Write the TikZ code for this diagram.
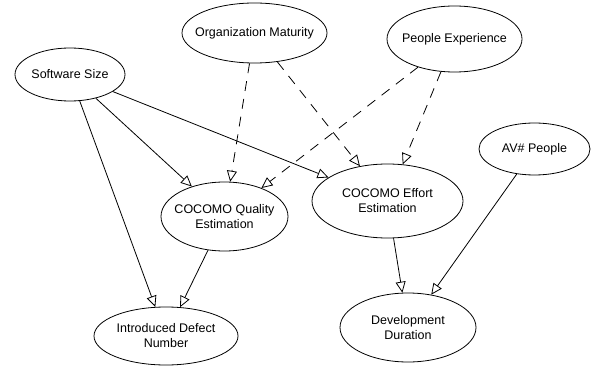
\documentclass[tikz,border=0pt]{standalone}
\usepackage{fontspec}
\setmainfont{Liberation Sans}
\usetikzlibrary{shapes.geometric,arrows.meta}
\tikzset{font=\fontsize{12.5}{15}\selectfont}

\begin{document}
\begin{tikzpicture}[x=1pt,y=-1pt,
    every node/.style={draw,ellipse,line width=0.8pt,inner xsep=-12pt,inner ysep=0pt,align=center},
    link/.style={-{Triangle[open,length=11pt,width=10pt]},line width=0.8pt},
    weak/.style={link,dash pattern=on 10pt off 8pt}]
    \useasboundingbox (0,0) rectangle (591,366);

    \node[minimum width=110pt,minimum height=53pt] (size) at (70,74.5) {Software Size};
    \node[minimum width=145pt,minimum height=60pt] (maturity) at (254.5,33) {Organization Maturity};
    \node[minimum width=135pt,minimum height=66pt] (experience) at (454.5,39) {People Experience};
    \node[minimum width=111pt,minimum height=52pt] (avpeople) at (534.5,149) {AV\# People};
    \node[minimum width=127pt,minimum height=69pt] (quality) at (224.5,216.5) {COCOMO Quality\\Estimation};
    \node[minimum width=151pt,minimum height=74pt] (effort) at (387.5,201) {COCOMO Effort\\Estimation};
    \node[minimum width=144pt,minimum height=58pt] (defects) at (166,336) {Introduced Defect\\Number};
    \node[minimum width=136pt,minimum height=69pt] (duration) at (408,327.5) {Development\\Duration};

    \draw[link] (size) -- (quality);
    \draw[link] (size) -- (effort);
    \draw[link] (size) -- (defects);
    \draw[weak] (maturity) -- (quality);
    \draw[weak] (maturity) -- (effort);
    \draw[weak] (experience) -- (quality);
    \draw[weak] (experience) -- (effort);
    \draw[link] (quality) -- (defects);
    \draw[link] (effort) -- (duration);
    \draw[link] (avpeople) -- (duration);
\end{tikzpicture}
\end{document}
